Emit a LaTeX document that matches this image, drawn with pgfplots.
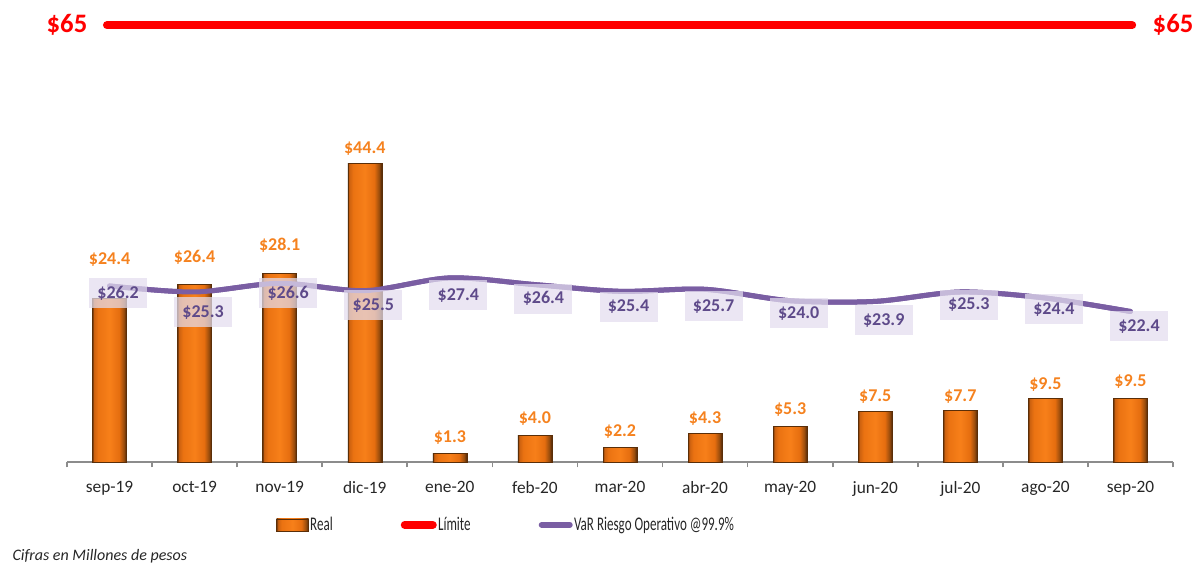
\documentclass[border=0pt]{standalone}
\usepackage{fontspec}
\setmainfont{Carlito}
\newfontfamily\legfont[FakeStretch=0.675]{Carlito}
\usepackage{pgfplots}
\pgfplotsset{compat=1.18}
\usepackage{pgfplotstable}

\definecolor{lblor}{HTML}{F5821F}
\definecolor{barline}{HTML}{5A2E08}
\definecolor{varp}{HTML}{7A5EA3}
\definecolor{vart}{HTML}{5E4A8A}
\definecolor{boxf}{HTML}{E3DDEE}
\definecolor{axg}{HTML}{8C8C8C}

\pgfdeclarehorizontalshading{barshade}{100bp}{%
 rgb(0bp)=(0.40,0.20,0.04);
 rgb(25bp)=(0.40,0.20,0.04);
 rgb(27bp)=(0.80,0.38,0.06);
 rgb(33bp)=(0.92,0.45,0.07);
 rgb(50bp)=(0.97,0.50,0.10);
 rgb(64bp)=(0.90,0.43,0.06);
 rgb(71bp)=(0.60,0.30,0.05);
 rgb(75bp)=(0.30,0.15,0.03);
 rgb(100bp)=(0.30,0.15,0.03)}

\pgfplotstableread{
x y v
0.1 25.15 26.2
1.1 22.25 25.3
2.1 25.15 26.6
3.1 23.3 25.5
4.1 24.8 27.4
5.1 24.3 26.4
6.1 23.1 25.4
7.1 23.2 25.7
8.1 22.1 24.0
9.1 21.1 23.9
10.1 23.4 25.3
11.1 22.7 24.4
12.1 20.2 22.4
}\varlabels

\pgfplotstableread{
x y v
0 30.2 24.4
1 30.4 26.4
2 32.3 28.1
3 46.6 44.4
4 3.7 1.3
5 6.5 4.0
6 4.5 2.2
7 6.5 4.3
8 7.8 5.3
9 9.8 7.5
10 9.8 7.7
11 11.5 9.5
12 12.0 9.5
}\reallabels

\pgfplotsset{/pgf/number format/assume math mode=true,
  barsty/.style={ybar, bar shift=0pt, bar width=25.5pt, draw=barline, line width=0.4pt, shade, shading=barshade}}

\begin{document}
\begin{tikzpicture}
\path[use as bounding box] (-50.25pt,-77.25pt) rectangle (845.25pt,346.5pt);
\begin{axis}[
  scale only axis,
  width=829.5pt, height=346.5pt,
  xmin=-0.5, xmax=12.5, ymin=0, ymax=68.75,
  clip=false,
  axis x line*=bottom,
  axis y line=none,
  x axis line style={axg, line width=1.5pt},
  xtick={0,...,12},
  xticklabels={sep-19,oct-19,nov-19,dic-19,ene-20,feb-20,mar-20,abr-20,may-20,jun-20,jul-20,ago-20,sep-20},
  major tick length=0pt,
  minor xtick={-0.5,0.5,...,12.5},
  minor tick length=4pt,
  tick align=outside,
  minor tick style={axg, line width=1.3pt},
  xticklabel style={font=\fontsize{13}{15}\selectfont, text=black!85, yshift=-11pt},
  ytick=\empty,
  legend columns=3,
  legend cell align=left,
  legend style={at={(rel axis cs:0.189,-0.136)}, anchor=west, draw=none, fill=none,
    inner sep=0pt, font=\legfont\fontsize{14.5}{16}\selectfont,
    nodes={inner sep=1pt, text=black!85},
    /tikz/every even column/.append style={column sep=50pt}},
]
\addplot[barsty,
  legend image code/.code={\path[shade, shading=barshade, draw=barline, line width=0.4pt] (0pt,-4.5pt) rectangle (24pt,4.5pt);}]
  coordinates {(0,24.4)};
\addlegendentry{Real}
\addplot[red, line width=6pt, line cap=round,
  legend image code/.code={\draw[red, line width=6pt, line cap=round] (3pt,0pt) -- (24pt,0pt);}]
  coordinates {(-0.03,65) (12.02,65)};
\addlegendentry{Límite}
\addplot[varp, line width=3.75pt, line cap=round, smooth, tension=0.5,
  legend image code/.code={\draw[varp, line width=4.5pt, line cap=round] (3pt,0pt) -- (24pt,0pt);}]
  coordinates {(0,26.2) (1,25.3) (2,26.6) (3,25.5) (4,27.4) (5,26.4) (6,25.4) (7,25.7) (8,24.0) (9,23.9) (10,25.3) (11,24.4) (12,22.4)};
\addlegendentry{VaR Riesgo Operativo @99.9\%}

\addplot[barsty, forget plot] coordinates {(1,26.4)};
\addplot[barsty, forget plot] coordinates {(2,28.1)};
\addplot[barsty, forget plot] coordinates {(3,44.4)};
\addplot[barsty, forget plot] coordinates {(4,1.3)};
\addplot[barsty, forget plot] coordinates {(5,4.0)};
\addplot[barsty, forget plot] coordinates {(6,2.2)};
\addplot[barsty, forget plot] coordinates {(7,4.3)};
\addplot[barsty, forget plot] coordinates {(8,5.3)};
\addplot[barsty, forget plot] coordinates {(9,7.5)};
\addplot[barsty, forget plot] coordinates {(10,7.7)};
\addplot[barsty, forget plot] coordinates {(11,9.5)};
\addplot[barsty, forget plot] coordinates {(12,9.5)};

% redraw VaR line over bars
\addplot[varp, line width=3.75pt, line cap=round, smooth, tension=0.5, forget plot]
  coordinates {(0,26.2) (1,25.3) (2,26.6) (3,25.5) (4,27.4) (5,26.4) (6,25.4) (7,25.7) (8,24.0) (9,23.9) (10,25.3) (11,24.4) (12,22.4)};

\addplot[draw=none, mark=none, forget plot, point meta=\thisrow{v},
  nodes near coords={\$\pgfmathprintnumber[fixed,fixed zerofill,precision=1]{\pgfplotspointmeta}},
  every node near coord/.append style={anchor=center, fill=boxf, fill opacity=0.72, text opacity=1,
    text=vart, font=\fontsize{13.5}{15}\selectfont\bfseries, minimum width=43.5pt, minimum height=22.5pt, inner sep=0pt}]
  table[x=x, y=y] {\varlabels};

\addplot[draw=none, mark=none, forget plot, point meta=\thisrow{v},
  nodes near coords={\$\pgfmathprintnumber[fixed,fixed zerofill,precision=1]{\pgfplotspointmeta}},
  every node near coord/.append style={anchor=center, text=lblor, font=\fontsize{13.5}{15}\selectfont\bfseries, inner sep=0pt}]
  table[x=x, y=y] {\reallabels};

\node[text=red, font=\fontsize{20}{22}\selectfont\bfseries] at (axis cs:-0.5,65) {\$65};
\node[text=red, font=\fontsize{20}{22}\selectfont\bfseries] at (axis cs:12.5,65) {\$65};
\node[anchor=west, font=\fontsize{12}{14}\selectfont\itshape, text=black!85] at (rel axis cs:-0.0535,-0.2035) {Cifras en Millones de pesos};
\end{axis}
\end{tikzpicture}
\end{document}
